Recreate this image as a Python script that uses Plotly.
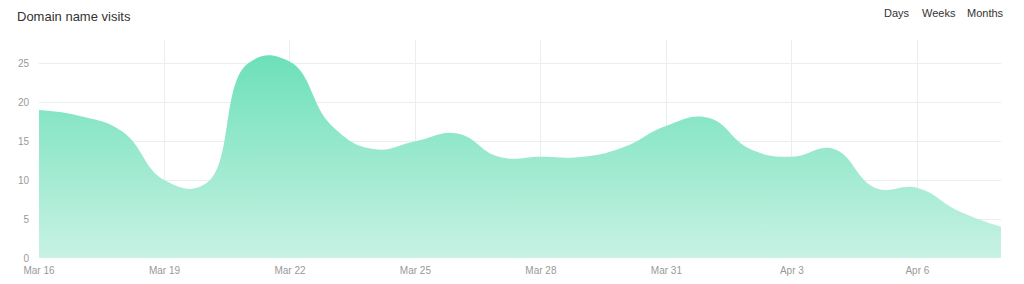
import plotly.graph_objects as go
import pandas as pd

dates = pd.date_range("2024-03-16", "2024-04-08", freq="D")
visits = [19, 18.2, 16.2, 10, 9.6, 25, 25.2, 17, 14, 15, 16, 13, 13, 13, 14.3, 17, 18, 14, 13, 14, 9, 9, 6, 4]
tick_dates = pd.date_range("2024-03-16", "2024-04-08", freq="3D")
tick_labels = [d.strftime("%b ") + str(d.day) for d in tick_dates]
y_ticks = [0, 5, 10, 15, 20, 25]
buttons = ["Days", "Weeks", "Months"]

fig = go.Figure()
fig.add_trace(go.Scatter(
    x=dates, y=visits, mode="lines",
    line=dict(shape="spline", smoothing=1.3, width=0, color="rgba(0,0,0,0)"),
    fill="tozeroy",
    fillgradient=dict(type="vertical",
                      colorscale=[[0, "#c8f2e3"], [1, "#6ce0b8"]]),
    hoverinfo="x+y",
))

fig.update_layout(
    width=1024, height=284,
    margin=dict(l=39, r=23, t=40, b=26),
    paper_bgcolor="white", plot_bgcolor="white",
    showlegend=False,
    font=dict(family="Liberation Sans, Arial, sans-serif", color="#999999", size=10),
    xaxis=dict(
        range=[dates[0], dates[-1]],
        tickvals=list(tick_dates), ticktext=tick_labels,
        showgrid=True, gridcolor="#e9eff0", gridwidth=1,
        zeroline=False, showline=False, ticks="",
        ticklabelstandoff=5, automargin=False,
        tickfont=dict(size=10, color="#999999"),
    ),
    yaxis=dict(
        range=[0, 28], tickvals=y_ticks,
        showgrid=True, gridcolor="#e9eff0", gridwidth=1,
        zeroline=False, showline=False, ticks="",
        ticklabelstandoff=9, automargin=False,
        tickfont=dict(size=10, color="#999999"),
    ),
)

fig.add_annotation(text="Domain name visits", xref="paper", yref="paper",
                   x=-39/962 + 15/962, y=1 + 24/218, xanchor="left", yanchor="middle",
                   showarrow=False, font=dict(size=13, color="#333333"))

btn_x = [882, 920, 965]
for label, px in zip(buttons, btn_x):
    fig.add_annotation(text=label, xref="paper", yref="paper",
                       x=(px - 39) / 962, y=1 + 27/218, xanchor="left", yanchor="middle",
                       showarrow=False, font=dict(size=11, color="#333333"))

fig.write_html("out.html")
